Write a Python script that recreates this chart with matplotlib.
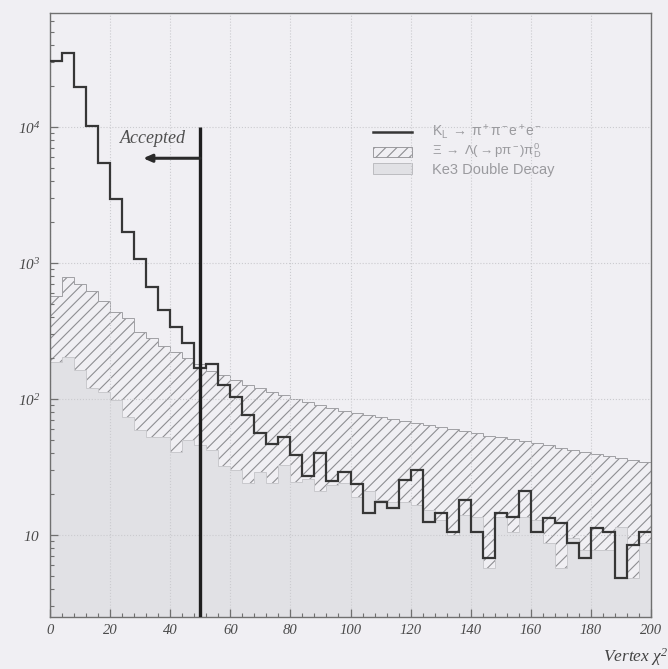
import numpy as np
import matplotlib
matplotlib.use("Agg")
import matplotlib.pyplot as plt
from matplotlib.patches import Rectangle
from matplotlib.lines import Line2D
from matplotlib.ticker import FixedLocator, MultipleLocator, NullFormatter

plt.rcParams['mathtext.fontset'] = 'custom'
plt.rcParams['mathtext.rm'] = 'Liberation Serif:italic'
plt.rcParams['mathtext.it'] = 'Liberation Serif:italic'
plt.rcParams['mathtext.sf'] = 'Liberation Sans'
plt.rcParams['hatch.linewidth'] = 0.8

# ---- histogram data: vertex chi^2, 4-unit bins from 0 to 200 ----
bin_edges = np.arange(0, 204, 4)

# K_L -> pi+ pi- e+ e-
signal = [30500, 35000, 19700, 10200, 5430, 2950, 1690, 1070, 666, 451,
          338, 258, 169, 181, 127, 103, 76, 56, 47, 53,
          39, 27, 40, 25, 29, 23.7, 14.5, 17.5, 15.8, 25.4,
          30, 12.5, 14.5, 10.5, 18, 10.5, 6.8, 14.5, 13.6, 21,
          10.5, 13.3, 12.3, 8.7, 6.8, 11.3, 10.5, 4.8, 8.4, 10.5]

# Ke3 double decay background
ke3_double = [187, 204, 163, 120, 113, 98, 74, 59, 53, 53,
              41, 50, 46, 42, 32, 30, 24, 29, 24, 33,
              24.5, 26, 21, 23.5, 24, 19, 21, 18, 17.5, 17.5,
              16.6, 15.3, 12.9, 10, 14, 13.6, 5.7, 13.6, 10.5, 13.6,
              12.9, 8.7, 5.7, 9.5, 7.8, 7.8, 7.8, 11.5, 4.8, 8.7]

# Xi -> Lambda(-> p pi-) pi0_D background (stacked on Ke3)
xi_lambda = [385, 585, 538, 502, 412, 339, 320, 252, 228, 192,
             181, 150, 135, 119, 118, 108, 103, 91, 89, 74,
             75.5, 69, 69, 62.5, 58, 60, 55, 56, 53.5, 51.5,
             50.4, 48.7, 49.1, 50, 44, 42.4, 48.3, 39.4, 40.5, 35.4,
             34.6, 37.3, 37.9, 32.5, 32.9, 31.6, 30.2, 25.3, 30.8, 25.7]

y_ticks = [10, 100, 1000, 10000]
y_tick_labels = [r'$10$', r'$10^{2}$', r'$10^{3}$', r'$10^{4}$']
cut_value = 50

paper = '#f0eff3'
ink = '#363636'

ke3 = np.array(ke3_double, dtype=float)
total = ke3 + np.array(xi_lambda, dtype=float)

fig = plt.figure(figsize=(6.68, 6.69), dpi=100, facecolor=paper)
ax = fig.add_axes([50 / 668, 1 - 617 / 669, 601 / 668, 604 / 669])
ax.set_facecolor(paper)
ax.set_yscale('log')

# Ke3 double decay (grey fill)
ax.stairs(ke3, bin_edges, baseline=1, fill=True, facecolor='#e1e1e5',
          edgecolor='none', zorder=1)
# Xi background stacked on top (hatched)
ax.stairs(total, bin_edges, baseline=ke3, fill=True, facecolor='none',
          edgecolor='#8e8e92', hatch='///', linewidth=0, zorder=1.1)
ax.stairs(total, bin_edges, baseline=None, color='#a0a0a4', lw=0.7, zorder=1.2)
ax.stairs(ke3, bin_edges, baseline=None, color='#c9c9cd', lw=0.7, zorder=1.2)
# signal histogram
ax.stairs(signal, bin_edges, baseline=None, color=ink, lw=1.6, zorder=3)

ax.set_xlim(0, 200)
ax.set_ylim(2.5, 6.9e4)

# cut line and acceptance arrow
ax.vlines(cut_value, 2.5, 1e4, color='#1e1e1e', lw=2.4, zorder=4)
ax.annotate('', xy=(31, 5900), xytext=(cut_value, 5900),
            arrowprops=dict(arrowstyle='-|>,head_length=0.5,head_width=0.22',
                            color='#2a2a2a', lw=2.2, shrinkA=0, shrinkB=0),
            zorder=4)
ax.text(34.3, 8300, 'Accepted', family='Liberation Serif', style='italic',
        fontsize=13, color='#505050', ha='center', va='center')

# axes styling
for s in ax.spines.values():
    s.set_color('#707070')
    s.set_linewidth(1.0)
ax.xaxis.set_major_locator(MultipleLocator(20))
ax.xaxis.set_minor_locator(MultipleLocator(4))
ax.yaxis.set_major_locator(FixedLocator(y_ticks))
ax.set_yticklabels(y_tick_labels)
minor_y = [m * 10 ** e for e in range(0, 5) for m in range(2, 10)]
ax.yaxis.set_minor_locator(FixedLocator(minor_y))
ax.yaxis.set_minor_formatter(NullFormatter())
ax.tick_params(which='both', direction='in', color='#707070',
               top=False, right=False)
ax.tick_params(which='major', length=6, width=0.9)
ax.tick_params(which='minor', length=3, width=0.8)
ax.tick_params(axis='x', pad=5, labelsize=10.5, labelcolor='#4a4a4a')
ax.tick_params(axis='y', pad=7, labelsize=11, labelcolor='#4a4a4a')
for lab in ax.get_xticklabels():
    lab.set_family('Liberation Serif')
    lab.set_style('italic')

ax.grid(True, which='major', ls=':', color='#cbcbcf', lw=0.8)

# legend
tr = ax.transAxes
leg_x0, leg_x1, txt_x = 0.537, 0.602, 0.636
ax.add_line(Line2D([leg_x0, leg_x1], [0.803, 0.803], transform=tr,
                   color=ink, lw=1.8))
ax.add_patch(Rectangle((leg_x0, 0.762), leg_x1 - leg_x0, 0.016, transform=tr,
                       facecolor='none', edgecolor='#8e8e92', hatch='///',
                       lw=0.6))
ax.add_patch(Rectangle((leg_x0, 0.733), leg_x1 - leg_x0, 0.018, transform=tr,
                       facecolor='#e1e1e5', edgecolor='#b5b5b9', lw=0.6))
leg_col = '#9a9a9e'
ax.text(txt_x, 0.804, r'$\mathsf{K_L\ \rightarrow\ \pi^+\pi^-e^+e^-}$',
        transform=tr, fontsize=10, color=leg_col, va='center')
ax.text(txt_x, 0.772, r'$\mathsf{\Xi\ \rightarrow\ \Lambda(\rightarrow p\pi^-)\pi^0_D}$',
        transform=tr, fontsize=9.5, color=leg_col, va='center')
ax.text(txt_x, 0.740, 'Ke3 Double Decay', family='Liberation Sans',
        transform=tr, fontsize=10.5, color=leg_col, va='center')

fig.text(603 / 668, 1 - 657 / 669, r'$Vertex\ \chi^{2}$', fontsize=12.5,
         color='#444444', ha='left', va='center')

fig.savefig('out.png', dpi=100, facecolor=paper)
